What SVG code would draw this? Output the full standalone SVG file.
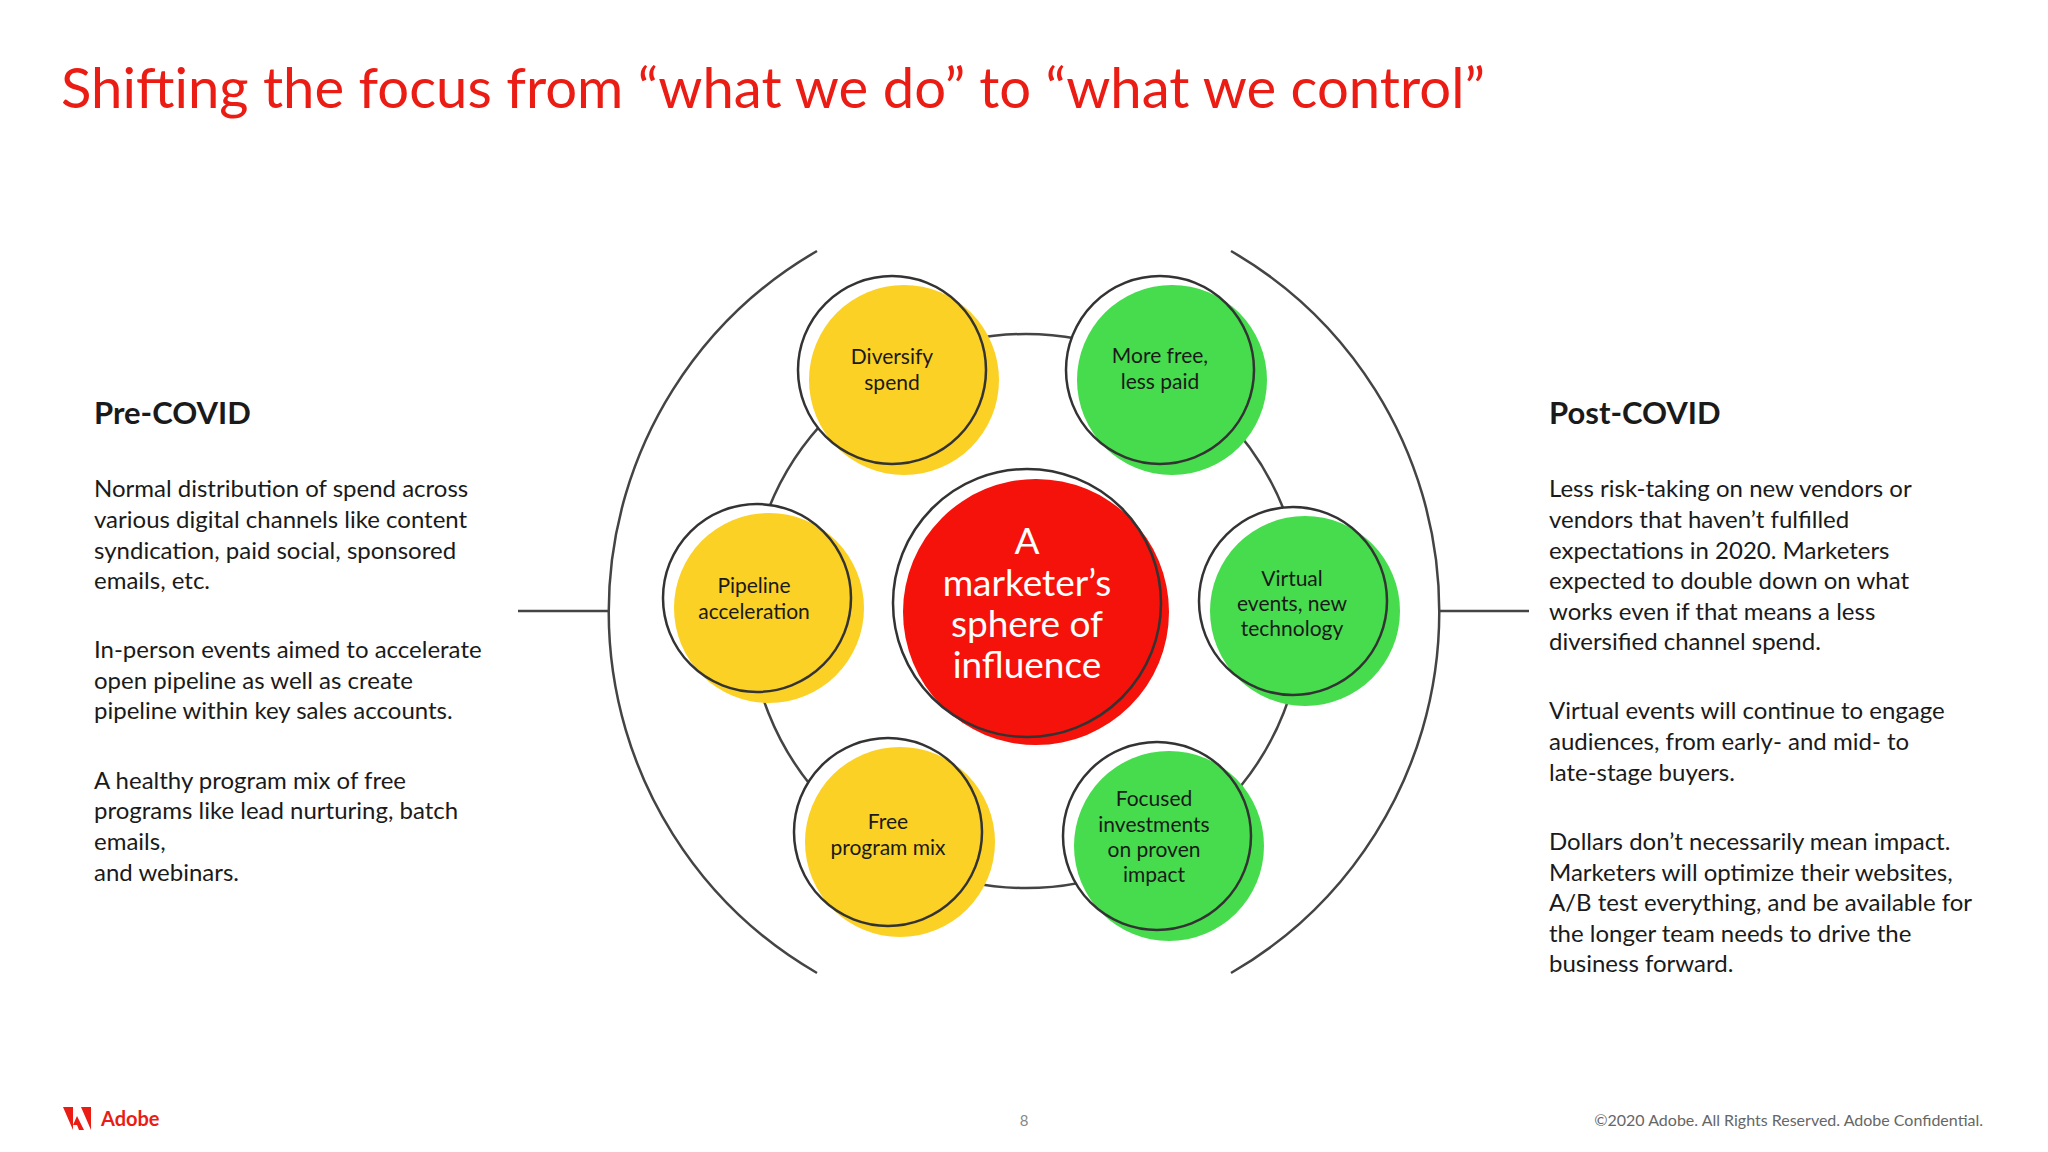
<svg xmlns="http://www.w3.org/2000/svg" width="2048" height="1152" viewBox="0 0 2048 1152">
<style>
text{font-family:Lato,"Open Sans","Liberation Sans",sans-serif;fill:#1a1a1a}
.t{font-size:24px}
.h{font-size:31px;font-weight:bold}
.n{font-size:21px;text-anchor:middle}
.ln{fill:none;stroke:#444;stroke-width:2.5}
.ol{fill:none;stroke:#333;stroke-width:2.5}
.y{fill:#fbd125}.g{fill:#47dc4e}
</style>
<rect width="2048" height="1152" fill="#fff"/>
<text x="61" y="108" style="font-size:56px;fill:#ea1c14" textLength="1424" lengthAdjust="spacingAndGlyphs">Shifting the focus from “what we do” to “what we control”</text>
<g id="connectors">
<circle class="ln" cx="1026" cy="611" r="277"/>
<path class="ln" d="M817 251 A417 417 0 0 0 817 973"/>
<path class="ln" d="M1231 251 A417 417 0 0 1 1231 973"/>
<line class="ln" x1="518" y1="611" x2="609" y2="611"/>
<line class="ln" x1="1439" y1="611" x2="1529" y2="611"/>
</g>
<g id="center">
<circle cx="1027" cy="603" r="134" fill="#fff"/>
<circle cx="1036" cy="612" r="133" fill="#f4120a"/>
<circle class="ol" cx="1027" cy="603" r="134"/>
<text style="font-size:37px;fill:#fff;text-anchor:middle"><tspan x="1027" y="554">A</tspan><tspan x="1027" y="596">marketer’s</tspan><tspan x="1027" y="637">sphere of</tspan><tspan x="1027" y="678">influence</tspan></text>
</g>
<g id="diversify"><circle cx="892" cy="370" r="94" fill="#fff"/><circle class="y" cx="904" cy="380" r="95"/><circle class="ol" cx="892" cy="370" r="94"/>
<text class="n"><tspan x="892" y="364">Diversify</tspan><tspan x="892" y="390">spend</tspan></text></g>
<g id="morefree"><circle cx="1160" cy="370" r="94" fill="#fff"/><circle class="g" cx="1172" cy="380" r="95"/><circle class="ol" cx="1160" cy="370" r="94"/>
<text class="n"><tspan x="1160" y="363">More free,</tspan><tspan x="1160" y="389">less paid</tspan></text></g>
<g id="pipeline"><circle cx="757" cy="598" r="94" fill="#fff"/><circle class="y" cx="769" cy="608" r="95"/><circle class="ol" cx="757" cy="598" r="94"/>
<text class="n"><tspan x="754" y="593">Pipeline</tspan><tspan x="754" y="619">acceleration</tspan></text></g>
<g id="virtual"><circle cx="1293" cy="601" r="94" fill="#fff"/><circle class="g" cx="1305" cy="611" r="95"/><circle class="ol" cx="1293" cy="601" r="94"/>
<text class="n"><tspan x="1292" y="586">Virtual</tspan><tspan x="1292" y="611">events, new</tspan><tspan x="1292" y="636">technology</tspan></text></g>
<g id="freeprogram"><circle cx="888" cy="832" r="94" fill="#fff"/><circle class="y" cx="900" cy="842" r="95"/><circle class="ol" cx="888" cy="832" r="94"/>
<text class="n"><tspan x="888" y="829">Free</tspan><tspan x="888" y="855">program mix</tspan></text></g>
<g id="focused"><circle cx="1157" cy="836" r="94" fill="#fff"/><circle class="g" cx="1169" cy="846" r="95"/><circle class="ol" cx="1157" cy="836" r="94"/>
<text class="n"><tspan x="1154" y="806">Focused</tspan><tspan x="1154" y="832">investments</tspan><tspan x="1154" y="857">on proven</tspan><tspan x="1154" y="882">impact</tspan></text></g>
<g id="pre">
<text class="h" x="94" y="424">Pre-COVID</text>
<text class="t"><tspan x="94" y="497">Normal distribution of spend across</tspan><tspan x="94" y="528">various digital channels like content</tspan><tspan x="94" y="559">syndication, paid social, sponsored</tspan><tspan x="94" y="589">emails, etc.</tspan>
<tspan x="94" y="658">In-person events aimed to accelerate</tspan><tspan x="94" y="689">open pipeline as well as create</tspan><tspan x="94" y="719">pipeline within key sales accounts.</tspan>
<tspan x="94" y="789">A healthy program mix of free</tspan><tspan x="94" y="819">programs like lead nurturing, batch</tspan><tspan x="94" y="850">emails,</tspan><tspan x="94" y="881">and webinars.</tspan></text>
</g>
<g id="post">
<text class="h" x="1549" y="424">Post-COVID</text>
<text class="t"><tspan x="1549" y="497">Less risk-taking on new vendors or</tspan><tspan x="1549" y="528">vendors that haven’t fulfilled</tspan><tspan x="1549" y="559">expectations in 2020. Marketers</tspan><tspan x="1549" y="589">expected to double down on what</tspan><tspan x="1549" y="620">works even if that means a less</tspan><tspan x="1549" y="650">diversified channel spend.</tspan>
<tspan x="1549" y="719">Virtual events will continue to engage</tspan><tspan x="1549" y="750">audiences, from early- and mid- to</tspan><tspan x="1549" y="781">late-stage buyers.</tspan>
<tspan x="1549" y="850">Dollars don’t necessarily mean impact.</tspan><tspan x="1549" y="881">Marketers will optimize their websites,</tspan><tspan x="1549" y="911">A/B test everything, and be available for</tspan><tspan x="1549" y="942">the longer team needs to drive the</tspan><tspan x="1549" y="972">business forward.</tspan></text>
</g>
<g id="footer">
<path d="M63 1107 L73 1107 L73 1130 Z M81 1107 L91 1107 L91 1130 Z M77 1116 L84 1130 L79 1130 L77 1125 L73 1125 Z" fill="#ea1c14"/>
<text x="101" y="1126" style="font-size:20px;font-weight:bold;fill:#ea1c14">Adobe</text>
<text x="1024" y="1126" style="font-size:15px;fill:#888;text-anchor:middle">8</text>
<text x="1983" y="1126" style="font-size:16px;fill:#666;text-anchor:end">©2020 Adobe. All Rights Reserved. Adobe Confidential.</text>
</g>
</svg>
